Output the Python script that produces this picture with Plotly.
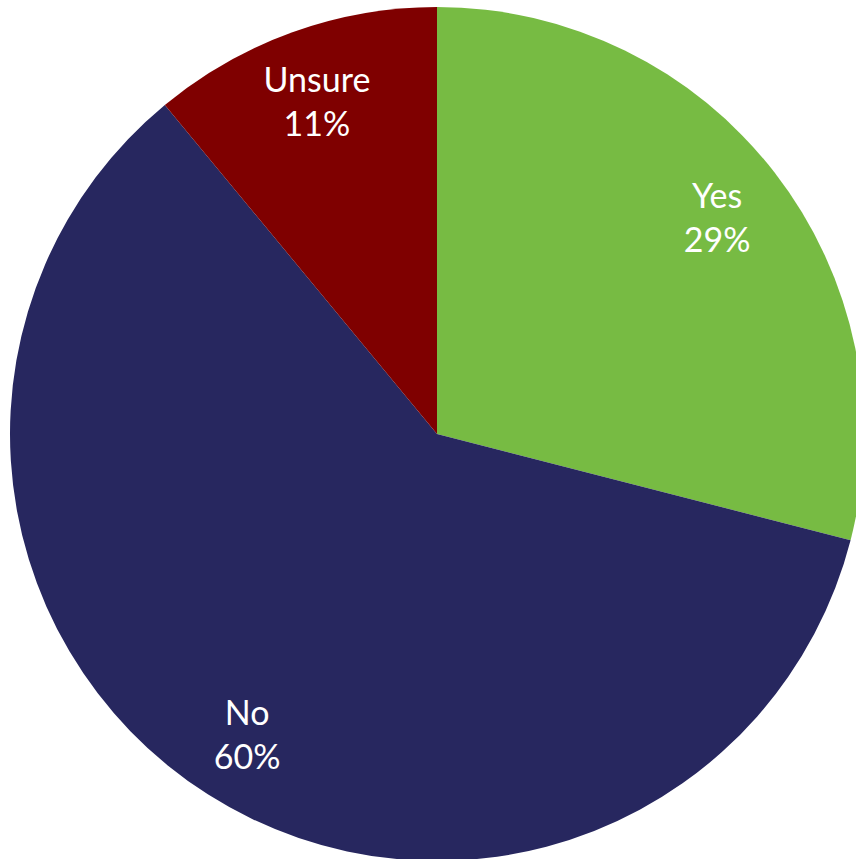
import plotly.graph_objects as go

labels = ["Yes", "No", "Unsure"]
values = [29, 60, 11]
colors = ["#77BB43", "#27275F", "#7F0000"]

W, H = 870, 870
dom = dict(x=[10 / W, 864 / W], y=[(H - 861) / H, (H - 7) / H])

fig = go.Figure()
fig.add_trace(go.Pie(
    labels=labels,
    values=values,
    sort=False,
    direction="clockwise",
    rotation=0,
    marker=dict(colors=colors, line=dict(width=0)),
    textinfo="none",
    domain=dom,
    showlegend=False,
    hoverinfo="skip",
))
# transparent ring carrying the labels, so they sit near the outer edge
fig.add_trace(go.Pie(
    labels=labels,
    values=values,
    sort=False,
    direction="clockwise",
    rotation=0,
    hole=0.66,
    marker=dict(colors=["rgba(0,0,0,0)"] * len(values), line=dict(width=0)),
    texttemplate="%{label}<br>%{percent:.0%}",
    textposition="inside",
    insidetextorientation="horizontal",
    textfont=dict(family="Lato, Open Sans, sans-serif", size=34, color="white"),
    domain=dom,
    showlegend=False,
    hoverinfo="skip",
))
fig.update_layout(
    width=W, height=H,
    margin=dict(l=0, r=0, t=0, b=0),
    paper_bgcolor="white",
    plot_bgcolor="white",
)
fig.write_html(
    "out.html",
    config={"displayModeBar": False},
    post_script="document.body.style.margin='0';document.body.style.overflow='hidden';",
)
